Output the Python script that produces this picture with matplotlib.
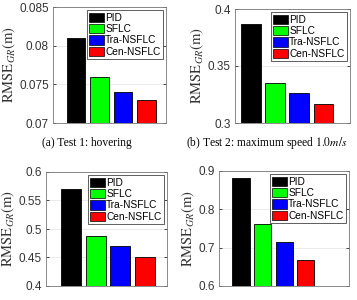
import numpy as np
import matplotlib.pyplot as plt
from matplotlib.patches import Patch

plt.rcParams["mathtext.fontset"] = "stix"

methods = ["PID", "SFLC", "Tra-NSFLC", "Cen-NSFLC"]
colors = ["#000000", "#00ff00", "#0000ff", "#ff0000"]

rmse_hover = [0.081, 0.076, 0.074, 0.073]
rmse_speed10 = [0.387, 0.335, 0.326, 0.317]
rmse_c = [0.570, 0.487, 0.470, 0.451]
rmse_d = [0.883, 0.761, 0.714, 0.667]

panels = [
    # data, ylim, yticks, ticklabels, xlim, rect (l, t, w, h in px), caption, caption x
    (rmse_hover, (0.07, 0.085), [0.07, 0.075, 0.08, 0.085],
     ["0.07", "0.075", "0.08", "0.085"], (0.02, 4.83),
     (53, 7, 113, 116), "(a) Test 1: hovering", 87),
    (rmse_speed10, (0.3, 0.4), [0.3, 0.35, 0.4],
     ["0.3", "0.35", "0.4"], (0.33, 5.12),
     (235, 9, 115, 114), "(b) Test 2: maximum speed $1.0m/s$", 267),
    (rmse_c, (0.4, 0.6), [0.4, 0.45, 0.5, 0.55, 0.6],
     ["0.4", "0.45", "0.5", "0.55", "0.6"], (-0.02, 4.9),
     (46, 172, 121, 114), None, 0),
    (rmse_d, (0.6, 0.9), [0.6, 0.7, 0.8, 0.9],
     ["0.6", "0.7", "0.8", "0.9"], (-0.02, 6.0),
     (219, 171, 130, 115), None, 0),
]

W, H = 357, 300
fig = plt.figure(figsize=(W / 100, H / 100), dpi=100)
x = np.arange(1, 5)

for vals, ylim, yt, ytl, xlim, (l, t, w, h), cap, capx in panels:
    ax = fig.add_axes([l / W, (H - t - h) / H, w / W, h / H])
    ax.bar(x, vals, width=0.8, color=colors, edgecolor="black", linewidth=0.6, zorder=3)
    ax.set_ylim(*ylim)
    ax.set_xlim(*xlim)
    ax.set_yticks(yt)
    ax.set_yticklabels(ytl, fontfamily="Liberation Sans", fontsize=8.5, color="#333333")
    ax.set_xticks([])
    ax.tick_params(axis="y", direction="in", length=2, width=0.5, right=True, pad=3)
    ax.grid(axis="y", color="#e6e6e6", linewidth=0.6, zorder=0)
    for s in ax.spines.values():
        s.set_color("#777777")
        s.set_linewidth(0.6)
    ax.set_ylabel(r"$\mathrm{RMSE}_{GR}\mathrm{(m)}$", fontsize=10.5, labelpad=1,
                  color="#333333")
    handles = [Patch(facecolor=c, edgecolor="black", linewidth=0.5) for c in colors]
    leg = ax.legend(handles, methods, loc="upper right",
                    prop={"family": "Liberation Sans", "size": 7.3},
                    fancybox=False, edgecolor="#444444", framealpha=1,
                    handlelength=1.45, handleheight=1.05, handletextpad=0.1,
                    labelspacing=0.12, borderpad=0.25, borderaxespad=0.3)
    leg.get_frame().set_linewidth(0.6)
    if cap:
        fig.text(capx / W, 1 - 143 / H, cap, ha="center", va="center",
                 fontfamily="Liberation Serif", fontsize=8.3)

fig.savefig("out.png", dpi=100)
